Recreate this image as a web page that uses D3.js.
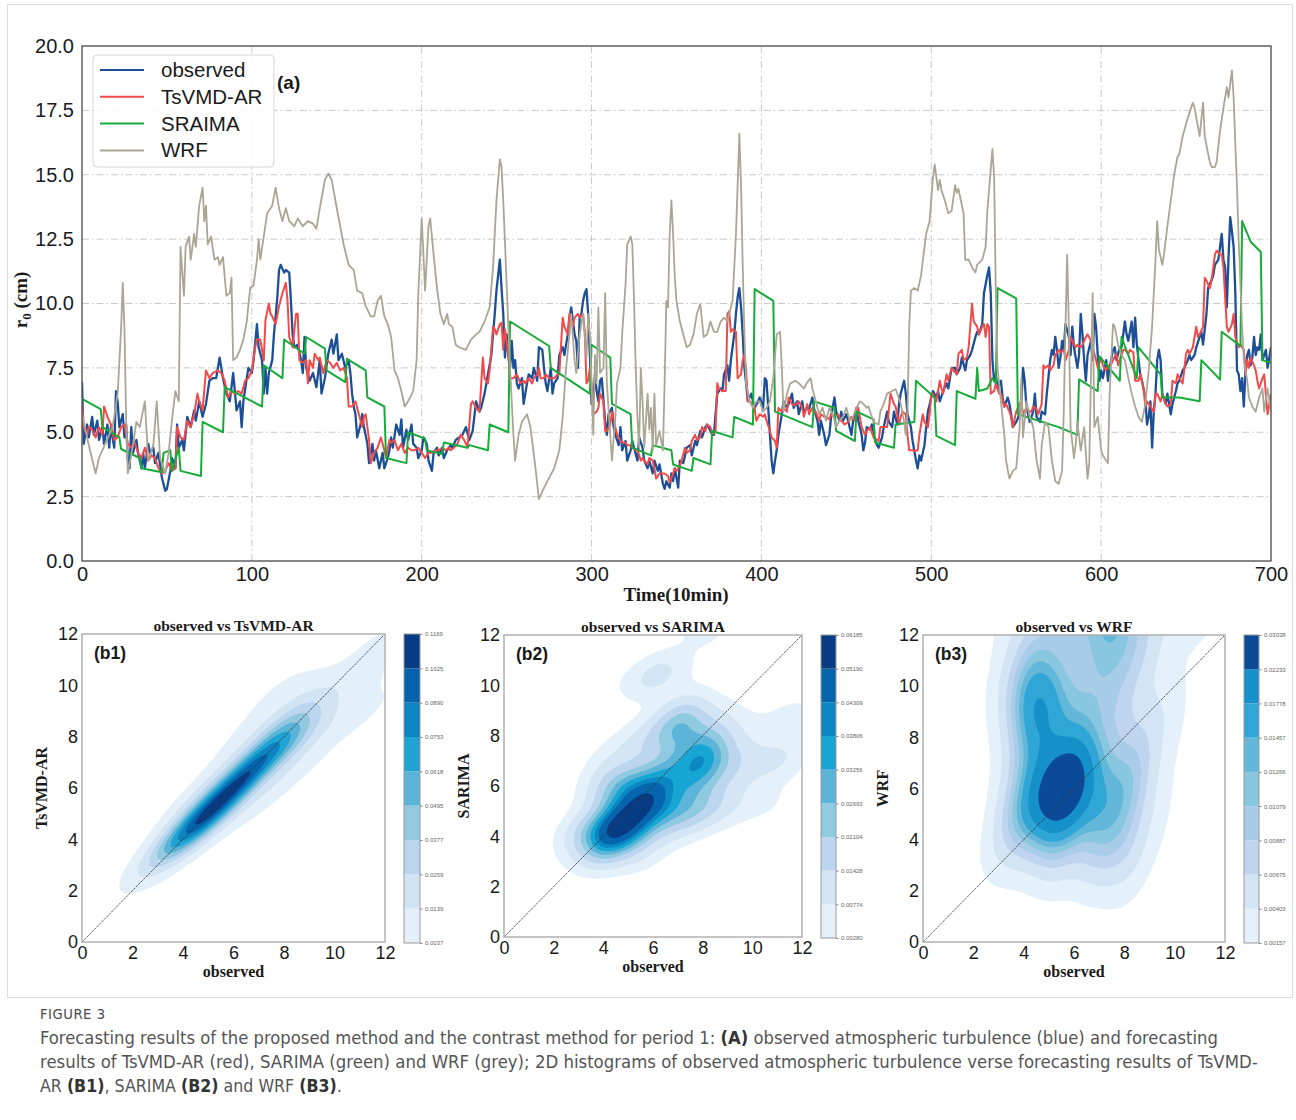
<!DOCTYPE html>
<html>
<head>
<meta charset="utf-8">
<script src="https://cdn.jsdelivr.net/npm/d3@7"></script>
<style>
  body { margin: 0; background: #fff; }
  svg text { font-family: "Liberation Sans", Arial, sans-serif; }
  svg text.serif { font-family: "Liberation Serif", "Times New Roman", serif; font-weight: bold; }
  svg text.caption { font-family: "Liberation Sans Narrow", "DejaVu Sans Condensed", "Open Sans", sans-serif; }
</style>
</head>
<body>
<svg id="fig" width="1296" height="1120"></svg>
<script>
// ---------- time series (time step in 10-min units, r0 in cm) ----------
const observed = [
[0,6.95],[1,4.55],[3,5.3],[4,4.8],[6,5.6],[7,4.9],[9,5.45],[10,4.7],[12,5.2],[13,4.55],[15,5.3],[16,4.4],[17,5.2],[19,4.4],[20,6.6],[21,6.2],[22,5.2],[24,5.7],[25,4.8],[26,5.3],[27,3.9],[28,3.6],[29,5.2],[30,4.2],[32,4.7],[33,4.2],[35,3.6],[36,4.2],[37,3.6],[39,4.55],[40,4.2],[42,4.4],[43,3.8],[45,4.2],[47,3.25],[49,2.73],[50,2.8],[52,3.5],[53,4.0],[55,3.6],[56,5.3],[57,4.4],[59,4.7],[60,4.3],[62,5.6],[64,5.2],[66,5.85],[67,5.45],[69,6.2],[71,5.6],[73,6.1],[75,7.0],[77,7.1],[79,7.1],[81,7.9],[83,7.1],[85,6.5],[87,6.2],[89,7.3],[90,6.6],[91,5.85],[93,6.2],[94,5.2],[95,6.2],[97,7.1],[98,7.5],[100,7.3],[101,7.8],[103,9.2],[104,8.3],[106,7.8],[107,6.5],[108,7.5],[109,6.5],[110,7.3],[112,7.8],[113,8.8],[114,9.5],[115,10.25],[116,11.3],[117,11.5],[119,11.2],[120,11.3],[122,11.2],[123,10.1],[124,8.8],[125,8.3],[127,8.4],[129,7.8],[130,7.3],[131,8.7],[132,7.5],[134,7.0],[136,7.3],[138,6.75],[140,7.8],[141,6.5],[143,7.1],[144,7.6],[145,8.05],[147,8.6],[148,8.05],[150,8.8],[151,7.8],[153,8.05],[155,7.5],[157,7.8],[158,7.3],[159,6.5],[160,6.0],[161,5.7],[162,4.8],[164,5.3],[165,5.7],[166,5.2],[168,4.55],[169,3.8],[171,4.55],[172,3.9],[173,4.3],[175,3.6],[177,4.2],[178,3.6],[180,4.0],[181,4.3],[182,4.8],[183,4.4],[185,5.3],[187,4.9],[188,5.5],[189,4.4],[191,5.1],[192,4.7],[194,5.3],[195,4.55],[197,4.4],[198,4.0],[200,4.3],[201,4.8],[203,4.55],[204,3.9],[206,3.5],[207,4.2],[209,4.4],[210,4.1],[212,4.4],[213,4.0],[215,4.3],[217,4.5],[218,4.4],[220,4.7],[222,4.8],[224,4.9],[226,5.2],[228,4.7],[230,5.05],[232,6.2],[234,5.8],
[235,5.95],[237,6.5],[239,7.25],[241,8.0],[243,9.6],[244,10.5],[246,11.7],[247,10.6],[248,9.6],[249,7.9],[250,8.8],[251,8.0],[252,7.5],[253,8.55],[254,7.5],[255,7.8],[256,6.9],[257,6.7],[259,7.1],[260,6.1],[262,6.9],[263,7.25],[265,7.1],[266,7.5],[268,7.0],[269,8.3],[271,8.2],[272,7.5],[273,6.9],[274,6.6],[276,7.5],[277,6.5],[278,6.9],[280,7.1],[281,8.0],[283,8.3],[284,8.0],[286,8.8],[287,9.45],[288,9.85],[290,8.8],[291,8.55],[292,7.5],[293,9.45],[294,9.6],[295,10.1],[296,10.4],[297,10.56],[298,9.6],[299,8.0],[300,6.1],[301,6.2],[302,7.25],[303,6.6],[304,6.2],[305,7.0],[306,7.1],[308,5.4],[309,4.9],[310,5.7],[312,5.95],[313,5.2],[314,4.9],[316,4.5],[317,5.2],[318,4.3],[320,4.66],[321,3.9],[323,4.3],[324,4.66],[325,4.4],[327,3.9],[328,4.8],[330,4.4],[331,3.9],[333,3.6],[334,3.9],[336,3.4],[337,3.9],[339,3.5],[340,3.75],[342,3.0],[343,2.8],[344,3.1],[346,2.85],[347,3.4],[348,3.1],[349,3.6],[351,2.85],[352,3.9],[354,3.8],[355,4.1],[356,4.4],[358,4.5],[359,4.1],[361,4.66],[362,4.5],[364,5.05],[365,4.8],[367,5.2],[368,5.3],[370,5.05],[371,4.9],[372,4.9],[374,6.5],[376,6.7],[377,6.6],[378,7.25],[380,7.6],[381,7.0],[382,7.8],[383,8.3],[384,8.8],[385,9.6],[386,10.25],[387,10.6],[388,9.85],[389,8.8],[390,7.5],[391,6.9],[392,6.2],[394,6.5],[395,6.2],[396,5.95],[398,6.2],[399,6.35],[401,5.95],[402,7.1],[403,7.0],[404,5.95],[405,4.9],[406,3.9],[407,3.4],[408,3.9],[409,4.3],[410,4.9],[412,5.7],[413,6.2],[415,5.95],[416,6.1],[418,6.5],[419,5.95],[421,6.2],[422,5.7],[424,6.2],[425,5.8],[427,5.95],[428,5.9],[430,6.35],[431,5.9],[433,5.45],[434,4.9],[435,5.45],[437,4.9],[438,4.5],[440,4.9],[441,5.6],[443,6.35],[444,5.8],[446,5.45],[447,5.8],[448,5.45],[450,5.7],[451,5.45],[453,4.9],[454,5.45],[456,5.95],[457,5.45],[459,4.9],[460,4.3],[461,4.6],[462,5.2],[464,5.1],[465,5.3],[466,4.9],[468,4.5],[469,4.4],[471,4.8],[472,5.2],[474,5.8],[475,5.4],[477,5.2],[478,5.8],[480,5.3],[481,6.1],[482,6.5],[484,7.0],[485,6.5],[486,5.7],[488,5.2],[489,4.66],[491,3.9],[492,3.6],[493,4.1],[494,3.9],[496,4.5],[497,5.2],[498,5.8],[500,6.35],[501,6.6],[503,6.35],[504,6.6],[505,6.2],[507,6.6],[509,6.9],[510,6.7],[511,7.1],[512,7.5],[514,7.5],[515,7.25],[517,7.5],[518,7.9],[520,7.4],[521,7.8],[523,8.0],[524,8.2],[526,8.7],[527,8.9],[528,8.8],[530,9.2],[531,10.4],[533,11.1],[534,11.4],[535,10.4],[536,7.8],[537,7.0],[538,7.25],[539,6.7],[541,7.0],[542,6.35],[543,6.0],[545,6.35],[546,6.1],[547,5.7],[548,5.2],[550,5.4],[552,5.7],[553,6.1],[554,7.5],[555,7.0],[556,6.0],[558,5.4],[560,5.8],[561,6.5],[562,5.6],[564,5.4],[565,5.8],[567,5.7],[568,6.5],[570,7.8],[571,8.2],[572,8.0],[573,8.7],[574,8.2],[575,7.5],[576,7.9],[577,8.55],[578,8.2],[579,9.2],[581,8.7],[582,8.0],[583,9.1],[584,8.3],[586,7.5],[587,8.0],[588,9.6],[589,8.8],[590,7.8],[591,7.0],[592,8.0],[594,8.55],[595,7.8],[596,9.6],[597,9.1],[598,8.0],[599,7.0],[600,7.4],[601,7.1],[603,7.8],[604,7.0],[605,7.5],[607,8.2],[608,8.3],[609,7.8],[611,8.3],[612,8.3],[614,9.3],[615,8.8],[616,8.55],[618,9.3],[619,8.3],[620,9.45],[621,8.4],[623,7.25],[624,7.0],[626,6.35],[627,5.3],[628,5.6],[629,6.2],[630,4.4],[631,5.8],[632,6.5],[633,7.8],[634,8.2],[635,7.8],[636,6.5],[638,6.1],[639,6.5],[641,5.7],[642,6.1],[644,6.6],[645,6.9],[646,7.0],[648,7.4],[649,7.5],[651,7.8],[652,8.0],[653,7.8],[655,8.0],[656,8.3],[658,8.7],[659,8.9],[660,8.4],[662,9.6],[663,10.6],[665,10.9],[666,11.1],[667,11.5],[669,11.7],[670,12.2],[671,12.7],[672,11.7],[673,11.4],[674,9.85],[675,11.8],[676,13.35],[677,12.8],[678,12.2],[679,10.4],[680,7.4],[681,7.25],[682,6.6],[683,7.1],[684,6.0],[685,7.4],[686,8.0],[687,8.2],[688,7.6],[689,7.9],[690,8.7],[691,8.0],[692,8.3],[693,8.2],[694,8.8],[695,7.8],[697,8.2],[698,7.5],[700,8.3]
];

const tsvmdAR = [
[0,6.1],[1,5.2],[3,4.9],[4,5.2],[6,5.1],[8,4.8],[10,5.2],[12,4.9],[13,6.0],[15,5.6],[17,5.3],[19,4.7],[21,4.8],[23,5.2],[25,5.3],[27,4.55],[29,4.4],[31,4.6],[33,4.2],[35,4.0],[37,4.4],[39,3.9],[41,4.1],[43,4.0],[45,3.6],[47,3.4],[49,3.5],[51,3.8],[53,3.5],[55,3.6],[56,5.2],[58,4.8],[60,4.7],[62,5.45],[63,5.3],[64,5.2],[66,5.7],[68,6.5],[69,6.2],[71,5.85],[73,7.4],[75,7.1],[77,7.3],[80,7.4],[82,7.3],[84,7.0],[86,6.35],[88,6.6],[90,6.5],[92,6.6],[94,6.5],[96,7.0],[98,7.1],[100,7.4],[102,8.3],[103,8.6],[105,8.6],[107,7.8],[108,9.35],[110,10.0],[111,9.6],[112,9.5],[114,9.2],[116,9.9],[118,10.4],[120,10.8],[121,10.1],[122,8.7],[124,8.3],[126,9.6],[127,9.6],[128,7.8],[130,7.7],[132,7.8],[133,6.9],[134,7.8],[136,7.5],[137,8.05],[139,7.8],[140,7.9],[142,7.3],[144,7.8],[146,7.7],[148,7.5],[150,7.7],[152,7.4],[154,7.5],[156,7.1],[157,6.0],[159,6.0],[161,6.2],[163,5.7],[165,5.2],[166,5.6],[167,5.7],[169,4.7],[170,3.8],[172,4.2],[174,4.4],[176,4.8],[178,4.3],[179,4.0],[181,4.7],[182,4.6],[184,4.7],[186,4.3],[188,4.55],[190,4.2],[192,4.4],[194,4.3],[196,4.3],[198,4.4],[200,4.2],[202,4.0],[204,4.2],[206,4.2],[208,4.3],[210,4.3],[212,4.4],[214,4.3],[216,4.4],[217,4.3],[219,4.4],[221,4.55],[223,4.9],[225,4.7],[227,4.4],[229,6.1],[230,6.2],[232,5.95],[234,5.8],
[236,7.9],[237,7.1],[239,6.9],[240,7.4],[242,9.1],[243,9.0],[244,8.8],[246,9.2],[247,9.25],[248,8.2],[249,9.0],[251,8.0],[252,7.1],[254,7.1],[256,7.25],[257,7.1],[258,6.9],[260,7.0],[261,6.9],[263,7.1],[265,6.9],[266,7.1],[268,7.25],[269,7.5],[270,7.1],[272,7.1],[273,7.25],[275,7.1],[278,7.1],[280,7.25],[281,7.25],[283,9.45],[284,9.1],[286,8.8],[287,9.6],[289,9.1],[290,9.45],[292,9.6],[293,9.45],[295,9.6],[296,8.9],[297,6.9],[298,7.0],[299,7.5],[300,6.9],[301,5.7],[303,5.8],[304,5.95],[305,6.5],[307,6.2],[308,5.05],[309,5.05],[311,5.3],[312,5.8],[314,5.2],[315,4.9],[317,4.66],[318,4.6],[320,4.6],[321,4.5],[323,4.5],[324,4.4],[326,4.3],[327,4.3],[329,3.9],[330,4.0],[331,3.9],[333,3.75],[334,4.0],[336,3.9],[337,3.6],[338,3.2],[340,3.4],[342,3.4],[343,3.4],[345,3.3],[346,3.05],[348,3.4],[349,3.6],[350,3.5],[352,3.7],[353,3.9],[355,4.4],[356,4.2],[358,4.3],[359,4.66],[361,4.9],[362,4.7],[364,4.8],[365,5.2],[367,5.05],[368,5.3],[370,5.2],[371,4.9],[373,5.05],[374,6.9],[375,6.7],[377,6.6],[379,6.6],[380,9.6],[381,9.7],[382,8.9],[383,9.0],[385,8.9],[386,7.1],[388,7.25],[389,7.8],[390,8.0],[391,7.4],[392,6.2],[393,6.2],[395,6.1],[396,5.95],[397,5.45],[399,5.7],[401,5.6],[402,5.7],[403,5.45],[405,5.05],[406,4.8],[408,4.66],[409,4.4],[410,5.95],[412,5.8],[413,5.95],[415,5.8],[416,6.35],[418,6.1],[419,6.05],[421,6.1],[422,6.2],[424,5.95],[425,5.6],[427,6.1],[428,5.7],[430,5.95],[431,5.8],[432,5.8],[434,5.45],[435,5.7],[437,5.6],[438,5.6],[440,5.5],[441,5.7],[443,5.6],[445,5.7],[447,5.45],[449,5.3],[451,5.4],[453,5.6],[455,5.45],[457,5.95],[459,5.2],[461,4.9],
[462,5.05],[464,5.2],[466,4.8],[469,4.66],[470,5.2],[472,5.2],[474,5.2],[476,6.5],[478,6.1],[479,6.0],[481,5.3],[482,5.6],[483,5.8],[485,5.7],[486,4.9],[487,4.3],[489,4.3],[490,4.27],[492,4.3],[493,4.9],[495,5.7],[496,5.4],[498,5.2],[499,5.7],[500,6.5],[501,6.5],[503,6.2],[505,7.0],[506,6.7],[507,6.5],[509,7.25],[510,7.0],[512,7.5],[513,7.4],[515,7.25],[516,8.05],[518,8.2],[519,7.8],[521,7.9],[522,8.3],[524,10.0],[525,9.3],[527,9.1],[528,8.8],[530,9.1],[531,9.2],[532,8.7],[533,9.2],[534,9.1],[535,6.5],[537,6.6],[538,6.9],[540,6.5],[541,6.5],[543,6.0],[544,6.1],[546,5.8],[547,5.6],[548,5.2],[550,5.8],[552,6.1],[553,6.2],[554,5.7],[556,5.95],[558,5.8],[559,5.8],[560,6.0],[562,5.9],[563,5.7],[565,6.1],[566,7.6],[567,7.5],[569,7.6],[570,7.4],[572,7.6],[573,8.0],[575,8.2],[576,8.1],[578,8.2],[579,7.8],[581,8.2],[582,8.7],[583,8.55],[585,8.3],[586,8.4],[588,8.3],[589,8.4],[591,8.7],[592,8.8],[594,8.55],[595,8.3],[597,7.8],[598,7.5],[600,7.9],[601,7.6],[603,7.4],[604,7.6],[605,7.5],[607,7.8],[609,8.05],[610,7.6],[611,7.8],[613,8.2],[614,8.2],[616,8.05],[617,8.2],[619,8.1],[620,7.0],[622,7.0],[623,7.25],[625,6.7],[626,6.0],[627,6.2],[629,6.0],[631,5.8],[632,6.5],[633,6.5],[635,6.2],[636,6.5],[638,6.1],[639,6.0],[641,6.1],[642,7.0],[644,6.9],[645,7.25],[647,7.0],[648,6.9],[650,8.05],[651,8.2],[652,8.05],[654,8.3],[656,9.1],[657,8.7],[658,8.8],[660,9.1],[661,11.0],[662,10.9],[664,10.6],[665,10.9],[667,11.9],[668,12.05],[670,11.9],[671,11.9],[672,11.4],[674,9.1],[675,8.9],[677,9.2],[678,9.6],[679,8.7],[681,8.3],[682,8.4],[684,8.2],[685,7.25],[686,7.8],[687,7.5],[688,7.9],[690,7.6],[691,7.4],[692,7.0],[693,6.7],[695,7.1],[696,7.25],[698,5.7],[700,6.5]
];

const sarima = [
[0,6.3],[11,5.9],[12,5.2],[22,4.8],[23,4.35],[34,4.0],[35,3.6],[47,3.45],[48,4.2],[52,4.3],[53,3.5],[57,4.4],[58,3.5],[70,3.3],[71,5.4],[83,5.0],[84,6.75],[106,6.0],[107,7.6],[118,7.1],[119,8.6],[131,8.05],[132,8.7],[143,8.25],[144,7.4],[155,6.95],[156,7.85],[167,7.4],[168,6.35],[178,6.0],[179,4.0],[191,3.8],[192,5.0],[202,4.75],[203,4.3],[212,4.15],[213,4.6],[227,4.4],[228,4.5],[239,4.3],[240,5.3],[251,5.0],[252,9.3],[275,8.35],[276,7.5],[299,6.5],[300,8.4],[311,7.9],[312,6.1],[323,5.7],[324,4.4],[335,4.1],[336,4.5],[347,4.3],[348,3.75],[359,3.5],[360,4.0],[370,3.75],[371,5.05],[383,4.8],[384,5.6],[395,5.3],[396,10.56],[407,10.1],[408,5.8],[430,5.2],[431,6.2],[443,5.95],[444,5.05],[455,4.66],[456,5.8],[466,5.5],[467,4.6],[478,4.4],[479,5.3],[490,5.4],[491,7.0],[502,6.35],[503,4.86],[514,4.5],[515,6.6],[526,6.3],[527,7.5],[528,6.6],[533,6.7],[536,7.1],[538,6.9],[539,10.6],[550,10.2],[551,5.7],[575,5.2],[586,4.9],[587,7.05],[598,6.6],[599,7.95],[611,7.0],[612,8.7],[621,7.1],[622,8.3],[635,7.25],[636,6.35],[646,6.35],[658,6.2],[659,7.8],[670,7.05],[671,8.9],[681,8.4],[682,8.35],[683,13.2],[688,12.4],[694,12.0],[695,7.8],[700,7.7]
];

const wrf = [
[0,5.7],[4,4.5],[8,3.4],[10,4.0],[14,4.6],[18,5.2],[21,6.5],[23,9.0],[24,10.8],[25,9.0],[26,5.5],[27,3.4],[30,4.5],[32,5.4],[34,5.2],[37,6.2],[39,3.9],[42,4.5],[44,6.2],[46,4.0],[49,3.4],[51,4.2],[53,5.5],[55,6.6],[57,6.2],[58,12.2],[60,10.3],[61,12.2],[63,12.6],[64,11.7],[66,12.7],[67,12.2],[69,13.8],[71,14.5],[72,13.2],[73,13.8],[74,12.3],[76,12.6],[78,11.7],[80,11.8],[81,11.5],[83,11.8],[85,10.3],[87,10.4],[88,11.0],[89,7.8],[91,7.9],[93,8.2],[95,8.6],[97,9.3],[99,10.6],[101,10.7],[103,11.7],[104,12.5],[105,11.7],[107,12.6],[109,13.5],[112,13.8],[114,14.5],[116,13.7],[118,13.2],[120,13.7],[122,13.2],[125,13.0],[127,13.3],[130,13.0],[133,13.2],[136,13.1],[138,12.9],[140,13.7],[143,14.8],[145,15.05],[147,14.8],[150,13.7],[154,12.3],[157,11.5],[160,11.3],[162,10.5],[165,10.4],[167,9.9],[170,9.5],[172,9.5],[174,10.1],[176,10.3],[178,9.5],[180,9.2],[182,8.7],[184,7.4],[186,7.1],[188,6.6],[190,6.0],[192,6.2],[195,6.6],[197,7.8],[198,10.4],[200,13.3],[201,11.9],[202,10.5],[204,13.0],[205,13.3],[207,11.9],[209,10.6],[211,9.6],[213,9.2],[215,9.6],[216,9.2],[218,9.1],[220,8.4],[222,8.3],[226,8.2],[229,8.6],[232,8.8],[234,8.9],[237,9.3],[240,9.85],[242,11.4],[244,14.0],[246,15.6],[247,15.3],[248,14.0],[250,10.75],[252,7.5],[254,4.9],[255,3.9],[257,4.9],[259,5.4],[262,5.7],[264,5.2],[267,3.6],[269,2.4],[271,2.7],[274,3.1],[278,3.6],[281,4.3],[283,5.6],[285,7.5],[287,8.8],[288,9.6],[290,7.8],[291,7.3],[293,8.8],[295,9.6],[297,7.9],[298,9.6],[299,8.8],[301,4.9],[302,8.0],[303,6.9],[304,9.85],[305,7.3],[307,7.5],[308,10.4],[309,6.9],[311,4.9],[312,3.9],[314,5.6],[315,6.9],[317,7.5],[318,8.8],[320,10.75],[321,12.3],[323,12.6],[324,12.3],[325,10.1],[326,7.5],[327,5.6],[328,4.4],[329,7.5],[330,6.2],[331,4.4],[333,6.5],[334,5.1],[335,5.95],[336,4.3],[337,6.5],[338,4.5],[340,5.05],[342,4.3],[343,6.9],[344,10.1],[345,9.85],[346,12.7],[347,14.0],[348,12.7],[349,11.0],[350,10.1],[352,9.3],[354,8.8],[356,8.3],[358,8.4],[360,8.8],[362,9.6],[364,9.98],[366,8.7],[368,8.8],[370,9.3],[372,8.9],[374,8.9],[376,9.3],[378,9.45],[380,9.3],[381,9.6],[383,10.1],[385,12.7],[386,14.6],[387,16.6],[388,14.6],[389,11.4],[390,8.8],[391,6.9],[393,6.2],[395,5.95],[397,6.2],[399,6.2],[401,5.8],[403,5.95],[405,6.2],[407,7.1],[409,8.8],[411,8.9],[412,7.5],[413,5.8],[415,6.5],[417,6.9],[420,7.0],[422,6.9],[425,6.7],[427,6.95],[429,7.1],[430,6.7],[432,6.2],[434,5.7],[436,5.95],[438,5.45],[440,5.95],[442,5.7],[444,5.2],[446,5.45],[448,5.6],[450,5.95],[452,5.45],[454,5.6],[456,5.95],[458,6.2],[460,6.1],[462,5.95],[463,6.0],[466,5.4],[469,5.3],[470,5.8],[472,6.1],[474,6.5],[477,6.6],[479,6.67],[480,6.5],[482,6.1],[484,5.4],[485,4.9],[486,5.7],[487,9.1],[488,10.5],[490,10.6],[492,10.5],[494,11.1],[496,12.2],[497,12.7],[499,13.2],[501,14.9],[502,15.4],[503,14.9],[504,14.4],[505,14.8],[506,14.4],[508,14.0],[510,13.5],[512,13.6],[514,14.6],[515,14.3],[516,14.45],[519,13.5],[520,11.7],[522,11.7],[524,11.4],[526,11.2],[527,11.5],[530,11.7],[532,12.2],[533,13.6],[535,15.2],[536,16.0],[537,14.9],[538,10.4],[539,7.5],[541,6.2],[543,4.9],[544,3.9],[546,3.2],[548,3.5],[550,3.6],[552,5.2],[553,7.1],[554,4.8],[556,6.2],[558,5.6],[560,5.2],[562,3.9],[564,3.2],[565,4.5],[567,5.4],[569,5.2],[571,3.9],[573,3.1],[575,3.0],[577,3.5],[578,5.8],[579,9.1],[580,11.9],[581,9.1],[582,5.2],[584,4.0],[585,4.5],[586,5.4],[588,4.3],[590,5.2],[592,3.2],[593,3.8],[595,10.4],[596,5.2],[598,5.6],[600,4.3],[601,4.1],[603,3.9],[604,3.8],[605,6.5],[607,9.2],[608,9.1],[610,8.4],[612,8.0],[614,7.8],[616,7.1],[618,6.5],[620,6.0],[622,5.6],[624,5.4],[626,6.1],[628,7.4],[630,9.1],[632,11.7],[633,13.2],[634,12.1],[636,11.5],[637,11.9],[639,13.0],[641,14.0],[643,15.0],[645,15.7],[646,15.8],[648,16.5],[651,17.2],[654,17.8],[655,17.6],[657,16.85],[658,16.5],[660,17.8],[661,16.5],[663,15.8],[664,15.5],[665,15.3],[667,15.3],[668,15.5],[670,16.7],[672,17.6],[674,18.4],[675,18.0],[677,19.05],[678,18.0],[679,16.2],[680,14.5],[681,12.4],[683,9.1],[684,7.8],[686,7.0],[687,6.35],[689,6.0],[691,5.8],[693,6.35],[695,6.7],[696,5.8],[698,6.7],[700,5.8]
];

// ---------- labels / ticks ----------
const seriesNames = ["observed", "TsVMD-AR", "SRAIMA", "WRF"];
const seriesColors = ["#1d4f96", "#f04b4a", "#17ab3a", "#aba594"];
const timeTicks = [0, 100, 200, 300, 400, 500, 600, 700];
const r0Ticks = [0, 2.5, 5, 7.5, 10, 12.5, 15, 17.5, 20];
const densTicks = [0, 2, 4, 6, 8, 10, 12];

// density contour levels (colorbar values) and fill colours, low -> high
const levelsB1 = [0.0037, 0.0139, 0.0259, 0.0377, 0.0495, 0.0618, 0.0753, 0.0890, 0.1025, 0.1169];
const levelsB2 = [0.00280, 0.00774, 0.01428, 0.02104, 0.02693, 0.03256, 0.03806, 0.04309, 0.05190, 0.06185];
const levelsB3 = [0.00157, 0.00403, 0.00675, 0.00887, 0.01079, 0.01266, 0.01457, 0.01778, 0.02233, 0.03038];
const colorsB1 = ["#e3f0f9", "#d2e4f4", "#bad5ee", "#92c9e1", "#5bb4d7", "#1ea3d3", "#0d84c2", "#0563ad", "#073b84"];
const colorsB2 = ["#e5f1fa", "#d4e6f5", "#bdd6ef", "#90cae1", "#5cb4d8", "#17a5d4", "#0b87c3", "#0565ad", "#073b84"];
const colorsB3 = ["#e4f1fa", "#d3e5f5", "#bfd5ef", "#a9cde8", "#89c6df", "#63b8da", "#30a6d6", "#1690c9", "#0a4a96"];

// ---------- drawing ----------
const svg = d3.select("#fig");
svg.append("rect").attr("width", 1296).attr("height", 1120).attr("fill", "#fff");
svg.append("rect").attr("x", 7.5).attr("y", 4.5).attr("width", 1285).attr("height", 993)
  .attr("fill", "none").attr("stroke", "#dcdcdc").attr("stroke-width", 1);

const x = d3.scaleLinear().domain([0, 700]).range([82, 1271]);
const y = d3.scaleLinear().domain([0, 20]).range([561, 46]);

const chartA = svg.append("g");
chartA.append("defs").append("clipPath").attr("id", "clipA")
  .append("rect").attr("x", 82).attr("y", 46).attr("width", 1189).attr("height", 515);

// grid
const gridStyle = s => s.attr("stroke", "#c9c9c9").attr("stroke-width", 1).attr("stroke-dasharray", "7,3,1.5,3");
chartA.append("g").selectAll("line").data(timeTicks.slice(1, -1)).join("line")
  .attr("x1", d => x(d)).attr("x2", d => x(d)).attr("y1", y(0)).attr("y2", y(20)).call(gridStyle);
chartA.append("g").selectAll("line").data(r0Ticks.slice(1, -1)).join("line")
  .attr("x1", x(0)).attr("x2", x(700)).attr("y1", d => y(d)).attr("y2", d => y(d)).call(gridStyle);

// axes
const axX = chartA.append("g").attr("transform", `translate(0,${y(0)})`)
  .call(d3.axisBottom(x).tickValues(timeTicks).tickSize(0).tickPadding(6).tickFormat(d3.format("d")));
const axY = chartA.append("g").attr("transform", `translate(${x(0)},0)`)
  .call(d3.axisLeft(y).tickValues(r0Ticks).tickSize(0).tickPadding(8).tickFormat(d3.format(".1f")));
[axX, axY].forEach(a => {
  a.select(".domain").remove();
  a.selectAll("text").attr("font-size", 20).attr("fill", "#1a1a1a")
    .style("font-family", '"Liberation Sans", Arial, sans-serif');
});

// series
const lineGen = d3.line().x(d => x(d[0])).y(d => y(d[1]));
const seriesData = [observed, tsvmdAR, sarima, wrf];
const widths = [2.3, 2.0, 2.0, 1.8];
chartA.append("g").attr("clip-path", "url(#clipA)").selectAll("path").data(seriesData).join("path")
  .attr("d", lineGen).attr("fill", "none")
  .attr("stroke", (d, i) => seriesColors[i]).attr("stroke-width", (d, i) => widths[i])
  .attr("stroke-linejoin", "round");

// frame
chartA.append("rect").attr("x", 82).attr("y", 46).attr("width", 1189).attr("height", 515)
  .attr("fill", "none").attr("stroke", "#555").attr("stroke-width", 1.4);

// legend
const lg = chartA.append("g");
lg.append("rect").attr("x", 93).attr("y", 55).attr("width", 181).attr("height", 112).attr("rx", 4)
  .attr("fill", "#fff").attr("fill-opacity", 0.85).attr("stroke", "#d6d6d6");
seriesNames.forEach((name, i) => {
  const yy = 70 + i * 26.8;
  lg.append("line").attr("x1", 100).attr("x2", 144).attr("y1", yy).attr("y2", yy)
    .attr("stroke", seriesColors[i]).attr("stroke-width", 2);
  lg.append("text").attr("x", 161).attr("y", yy + 7).attr("font-size", 20.5).attr("fill", "#1a1a1a").text(name);
});
chartA.append("text").attr("x", 277).attr("y", 89).attr("font-size", 19).attr("font-weight", "bold")
  .attr("fill", "#1a1a1a").text("(a)");

// axis titles
chartA.append("text").attr("class", "serif").attr("x", 676).attr("y", 601).attr("text-anchor", "middle")
  .attr("font-size", 19).attr("fill", "#1a1a1a").text("Time(10min)");
const yl = chartA.append("text").attr("class", "serif").attr("transform", "translate(27,300) rotate(-90)")
  .attr("text-anchor", "middle").attr("font-size", 19).attr("fill", "#1a1a1a");
yl.append("tspan").text("r");
yl.append("tspan").attr("font-size", 13).attr("dy", 4).text("0");
yl.append("tspan").attr("dy", -4).text(" (cm)");

// ---------- 2-D kernel density panels ----------
const sampleTimes = d3.range(0, 700);
const asScale = pts => d3.scaleLinear().domain(pts.map(p => p[0])).range(pts.map(p => p[1])).clamp(true);
const obsAt = asScale(observed);
const obsVals = sampleTimes.map(obsAt);

// Gaussian KDE, Scott's rule bandwidth times an adjustment factor
function gaussianKde(xs, ys, n, step, bwAdjust) {
  const N = xs.length;
  const mx = d3.mean(xs), my = d3.mean(ys);
  let sxx = 0, syy = 0, sxy = 0;
  for (let k = 0; k < N; k++) {
    const dx = xs[k] - mx, dy = ys[k] - my;
    sxx += dx * dx; syy += dy * dy; sxy += dx * dy;
  }
  sxx /= N - 1; syy /= N - 1; sxy /= N - 1;
  const f2 = Math.pow(N, -1 / 3) * bwAdjust * bwAdjust;
  const a = sxx * f2, b = sxy * f2, c = syy * f2, det = a * c - b * b;
  const ia = c / det, ib = -b / det, ic = a / det;
  const norm = 1 / (2 * Math.PI * Math.sqrt(det) * N);
  const vals = new Float64Array(n * n);
  for (let j = 0; j < n; j++) {
    const gy = j * step;
    for (let i = 0; i < n; i++) {
      const gx = i * step;
      let s = 0;
      for (let k = 0; k < N; k++) {
        const dx = gx - xs[k], dy = gy - ys[k];
        const q = ia * dx * dx + 2 * ib * dx * dy + ic * dy * dy;
        if (q < 40) s += Math.exp(-0.5 * q);
      }
      vals[j * n + i] = s * norm;
    }
  }
  return vals;
}

function densityPanel(cfg) {
  const g = svg.append("g");
  const xs = d3.scaleLinear().domain([0, 12]).range([cfg.left, cfg.right]);
  const ys = d3.scaleLinear().domain([0, 12]).range([cfg.bottom, cfg.top]);
  const clipId = "clip" + cfg.id;
  g.append("defs").append("clipPath").attr("id", clipId)
    .append("rect").attr("x", cfg.left).attr("y", cfg.top)
    .attr("width", cfg.right - cfg.left).attr("height", cfg.bottom - cfg.top);

  const modelVals = sampleTimes.map(asScale(cfg.model));
  const n = 121, step = 0.1;
  const vals = gaussianKde(obsVals, modelVals, n, step, cfg.bw);
  const bands = d3.contours().size([n, n]).thresholds(cfg.levels.slice(0, -1))(vals);
  const proj = d3.geoTransform({
    point(px, py) { this.stream.point(xs((px - 0.5) * step), ys((py - 0.5) * step)); }
  });
  const path = d3.geoPath(proj);
  g.append("g").attr("clip-path", `url(#${clipId})`).selectAll("path").data(bands).join("path")
    .attr("d", path).attr("fill", (d, i) => cfg.colors[i]).attr("stroke", "none");

  // identity line
  g.append("line").attr("x1", xs(0)).attr("y1", ys(0)).attr("x2", xs(12)).attr("y2", ys(12))
    .attr("stroke", "#333").attr("stroke-width", 0.8).attr("stroke-dasharray", "2.5,1");

  g.append("rect").attr("x", cfg.left).attr("y", cfg.top)
    .attr("width", cfg.right - cfg.left).attr("height", cfg.bottom - cfg.top)
    .attr("fill", "none").attr("stroke", "#ababab").attr("stroke-width", 1.4);

  const ax = g.append("g").attr("transform", `translate(0,${cfg.bottom})`)
    .call(d3.axisBottom(xs).tickValues(densTicks).tickSize(0).tickPadding(4));
  const ay = g.append("g").attr("transform", `translate(${cfg.left},0)`)
    .call(d3.axisLeft(ys).tickValues(densTicks).tickSize(0).tickPadding(4));
  [ax, ay].forEach(a => {
    a.select(".domain").remove();
    a.selectAll("text").attr("font-size", 18).attr("fill", "#1a1a1a")
      .style("font-family", '"Liberation Sans", Arial, sans-serif');
  });

  g.append("text").attr("class", "serif").attr("x", (cfg.left + cfg.right) / 2).attr("y", cfg.top - 3)
    .attr("text-anchor", "middle").attr("font-size", 15.5).attr("fill", "#1a1a1a").text(cfg.title);
  g.append("text").attr("class", "serif").attr("x", (cfg.left + cfg.right) / 2).attr("y", cfg.bottom + 35)
    .attr("text-anchor", "middle").attr("font-size", 16).attr("fill", "#1a1a1a").text("observed");
  g.append("text").attr("class", "serif")
    .attr("transform", `translate(${cfg.left - 35},${(cfg.top + cfg.bottom) / 2}) rotate(-90)`)
    .attr("text-anchor", "middle").attr("font-size", 16).attr("fill", "#1a1a1a").text(cfg.ylabel);
  g.append("text").attr("x", cfg.left + 12).attr("y", cfg.top + 25).attr("font-size", 17.5)
    .attr("font-weight", "bold").attr("fill", "#1a1a1a").text(cfg.tag);

  // colorbar
  const cb = cfg.cbar;
  const cs = d3.scaleLinear().domain([0, cfg.levels.length - 1]).range([cb.bottom, cb.top]);
  g.append("g").selectAll("rect").data(cfg.colors).join("rect")
    .attr("x", cb.left).attr("width", cb.right - cb.left)
    .attr("y", (d, i) => cs(i + 1)).attr("height", (d, i) => cs(i) - cs(i + 1))
    .attr("fill", d => d);
  g.append("rect").attr("x", cb.left).attr("y", cb.top).attr("width", cb.right - cb.left)
    .attr("height", cb.bottom - cb.top).attr("fill", "none").attr("stroke", "#9a9a9a").attr("stroke-width", 1);
  const ca = g.append("g").attr("transform", `translate(${cb.right},0)`)
    .call(d3.axisRight(cs).tickValues(d3.range(cfg.levels.length)).tickSize(2.5).tickPadding(2.5)
      .tickFormat(i => cfg.levels[i].toFixed(cfg.digits)));
  ca.select(".domain").remove();
  ca.selectAll("line").attr("stroke", "#888");
  ca.selectAll("text").attr("font-size", 6).attr("fill", "#666");
}

densityPanel({ id: "b1", tag: "(b1)", model: tsvmdAR, bw: 1.45, title: "observed vs TsVMD-AR", ylabel: "TsVMD-AR",
  left: 82, right: 385, top: 634, bottom: 942, levels: levelsB1, colors: colorsB1, digits: 4,
  cbar: { left: 404, right: 420, top: 634, bottom: 943 } });
densityPanel({ id: "b2", tag: "(b2)", model: sarima, bw: 1.0, title: "observed vs SARIMA", ylabel: "SARIMA",
  left: 504, right: 802, top: 635, bottom: 937, levels: levelsB2, colors: colorsB2, digits: 5,
  cbar: { left: 821, right: 836, top: 635, bottom: 938 } });
densityPanel({ id: "b3", tag: "(b3)", model: wrf, bw: 1.0, title: "observed vs WRF", ylabel: "WRF",
  left: 923, right: 1225, top: 635, bottom: 942, levels: levelsB3, colors: colorsB3, digits: 5,
  cbar: { left: 1244, right: 1259, top: 635, bottom: 943 } });

// ---------- caption ----------
// each line is sized so that its natural width fills the measured column
const cap = svg.append("g").attr("fill", "#555");
const fitText = (t, width, base) => {
  t.attr("font-size", base);
  const w = t.node().getComputedTextLength();
  t.attr("font-size", (base * width / w).toFixed(2));
};
const figLabel = cap.append("text").attr("class", "caption").attr("x", 40).attr("y", 1019)
  .attr("fill", "#4a4a4a").attr("letter-spacing", 0.5).text("FIGURE 3");
fitText(figLabel, 65, 17);
const capLines = [
  { y: 1044, w: 1178, parts: [["Forecasting results of the proposed method and the contrast method for period 1: ", 0], ["(A)", 1], [" observed atmospheric turbulence (blue) and forecasting", 0]] },
  { y: 1068, w: 1218, parts: [["results of TsVMD-AR (red), SARIMA (green) and WRF (grey); 2D histograms of observed atmospheric turbulence verse forecasting results of TsVMD-", 0]] },
  { y: 1092, w: 302, parts: [["AR ", 0], ["(B1)", 1], [", SARIMA ", 0], ["(B2)", 1], [" and WRF ", 0], ["(B3)", 1], [".", 0]] }
];
const capSizes = capLines.map(l => {
  const t = cap.append("text").attr("class", "caption").attr("x", 40).attr("y", l.y);
  l.parts.forEach(p => t.append("tspan").attr("font-weight", p[1] ? "bold" : null)
    .attr("fill", p[1] ? "#333" : null).text(p[0]));
  fitText(t, l.w, 18);
  return t;
});
</script>
</body>
</html>
